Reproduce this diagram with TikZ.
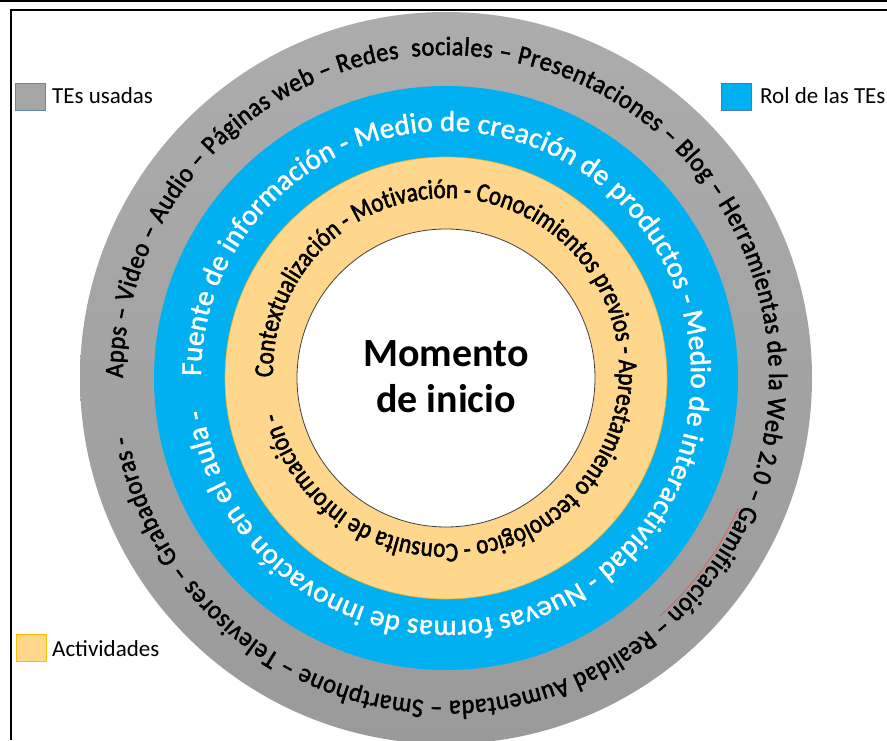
\documentclass[tikz,border=0pt]{standalone}
\usepackage{fontspec}
\setmainfont{Carlito}
\newfontfamily\grayfont[FakeStretch=0.92, FakeBold=1.8]{Carlito}
\newfontfamily\bluefont[FakeBold=1.6]{Carlito}
\newfontfamily\ringfont[FakeStretch=0.85, FakeBold=2.0]{Carlito}
\usetikzlibrary{decorations.text}
\definecolor{ringgray}{HTML}{A5A5A5}
\definecolor{graytop}{HTML}{ACACAC}
\definecolor{graybot}{HTML}{9A9A9A}
\definecolor{ringblue}{HTML}{00B0F0}
\definecolor{ringyellow}{HTML}{FFD78C}
\definecolor{yellowedge}{HTML}{F2B01E}
\definecolor{legendgrayedge}{HTML}{6485B0}
\definecolor{legendblueedge}{HTML}{3F7CC0}
\definecolor{legendyellowedge}{HTML}{FFC000}
\begin{document}
\begin{tikzpicture}[x=1pt,y=1pt,
  legendbox/.style={minimum width=30pt, minimum height=27pt, inner sep=0pt, line width=0.8pt},
  legendtext/.style={font=\fontsize{23}{28}\selectfont, anchor=base west, inner sep=0pt},
  ringtext/.style={decorate, decoration={text along path, text align={fit to path}, #1}}]
\useasboundingbox (0,0) rectangle (887,740);
\fill[white] (0,0) rectangle (887,740);
\draw[line width=2.5pt] (0,739) -- (887,739);
\draw[line width=2pt] (10.5,0) -- (10.5,729.5) -- (887,729.5);
\coordinate (C) at (446,362);
\coordinate (CB) at (446,364);
\coordinate (CY) at (446,369);
% rings
\shade[top color=graytop, bottom color=graybot] (C) circle[radius=366pt];
\fill[ringblue] (C) circle[radius=292pt];
\filldraw[fill=ringyellow, draw=yellowedge, line width=0.6pt] (C) circle[radius=221pt];
\filldraw[fill=white, draw=black!75, line width=0.8pt] (C) circle[radius=149pt];
% ring texts
\path[ringtext={text={|\grayfont\fontsize{26.5}{26.5}\selectfont|Apps – Video – Audio – Páginas web – Redes {\ }sociales – Presentaciones – Blog – Herramientas de la Web 2.0 – Gamificación – Realidad Aumentada – Smartphone – Televisores – Grabadoras -}}]
  ([shift={(180:323pt)}]C) arc[start angle=180, end angle=-169.5, radius=323pt];
\path[ringtext={text color=white, text={|\bluefont\fontsize{29}{29}\selectfont|Fuente de información - Medio de creación de productos - Medio de interactividad - Nuevas formas de innovación en el aula -}}]
  ([shift={(180:245pt)}]CB) arc[start angle=180, end angle=-172, radius=245pt];
\path[ringtext={text={|\ringfont\fontsize{27}{27}\selectfont|Contextualización - Motivación - Conocimientos previos - Aprestamiento tecnológico - Consulta de información -}}]
  ([shift={(182:173pt)}]CY) arc[start angle=182, end angle=-166, radius=173pt];
\draw[red!75, line width=0.5pt] ([shift={(-24:320pt)}]C) arc[start angle=-24, end angle=-48, radius=320pt];
% centre
\node[font=\bfseries\fontsize{40}{46}\selectfont, align=center, anchor=base, inner sep=0pt] (centre) at (446,327) {Momento\\de inicio};
% legend
\node[legendbox, fill=ringgray, draw=legendgrayedge] (kgray) at (30,643.5) {};
\node[legendtext] (lgray) at (52,636) {TEs usadas};
\node[legendbox, fill=ringblue, draw=legendblueedge] (kblue) at (736,643.5) {};
\node[legendtext] (lblue) at (760,636) {Rol de las TEs};
\node[legendbox, fill=ringyellow, draw=legendyellowedge] (kyellow) at (31.5,92.5) {};
\node[legendtext] (lyellow) at (52,84) {Actividades};
\end{tikzpicture}
\end{document}
